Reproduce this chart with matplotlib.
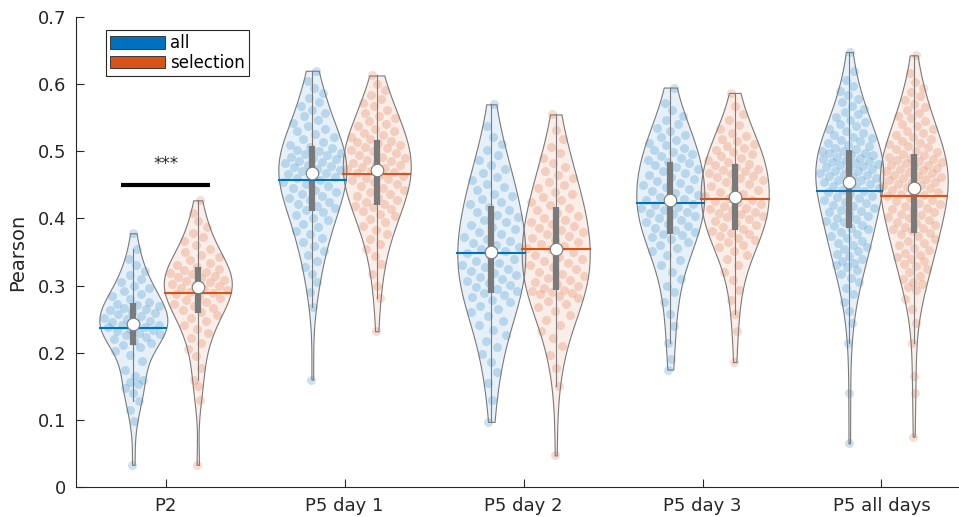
import numpy as np
import matplotlib.pyplot as plt
from matplotlib.patches import Patch
from matplotlib.colors import to_rgba


groups = ['P2', 'P5 day 1', 'P5 day 2', 'P5 day 3', 'P5 all days']
labels = ['all', 'selection']
colors = ['#0072BD', '#D95319']

# Pearson values per group
p2_all = [0.033, 0.098, 0.115, 0.128, 0.140, 0.148, 0.153, 0.157, 0.160, 0.165,
          0.175, 0.188, 0.196, 0.203, 0.209, 0.212, 0.214, 0.217, 0.220, 0.223,
          0.226, 0.228, 0.230, 0.232, 0.234, 0.236, 0.238, 0.239, 0.241, 0.242,
          0.244, 0.246, 0.248, 0.250, 0.252, 0.255, 0.257, 0.259, 0.261, 0.263,
          0.265, 0.267, 0.269, 0.271, 0.273, 0.276, 0.280, 0.284, 0.288, 0.292,
          0.296, 0.300, 0.305, 0.310, 0.316, 0.322, 0.330, 0.340, 0.355, 0.378]
p2_sel = [0.033, 0.130, 0.150, 0.160, 0.178, 0.195, 0.205, 0.214, 0.222, 0.229,
          0.235, 0.241, 0.247, 0.252, 0.256, 0.260, 0.263, 0.266, 0.269, 0.272,
          0.275, 0.278, 0.281, 0.284, 0.287, 0.289, 0.291, 0.293, 0.295, 0.297,
          0.299, 0.301, 0.303, 0.305, 0.307, 0.309, 0.311, 0.313, 0.315, 0.317,
          0.319, 0.321, 0.323, 0.325, 0.327, 0.330, 0.334, 0.338, 0.342, 0.346,
          0.350, 0.355, 0.360, 0.366, 0.372, 0.379, 0.387, 0.396, 0.408, 0.427]
d1_all = [0.160, 0.268, 0.290, 0.305, 0.318, 0.328, 0.337, 0.345, 0.352, 0.359,
          0.365, 0.371, 0.377, 0.382, 0.387, 0.392, 0.397, 0.401, 0.405, 0.409,
          0.412, 0.415, 0.418, 0.421, 0.424, 0.427, 0.430, 0.433, 0.436, 0.439,
          0.442, 0.445, 0.448, 0.451, 0.454, 0.457, 0.460, 0.462, 0.464, 0.466,
          0.468, 0.470, 0.472, 0.474, 0.476, 0.478, 0.480, 0.482, 0.484, 0.486,
          0.488, 0.490, 0.492, 0.494, 0.496, 0.498, 0.500, 0.502, 0.505, 0.507,
          0.510, 0.514, 0.518, 0.522, 0.526, 0.530, 0.534, 0.538, 0.542, 0.547,
          0.552, 0.557, 0.562, 0.568, 0.574, 0.580, 0.587, 0.595, 0.605, 0.620]
d1_sel = [0.232, 0.282, 0.300, 0.318, 0.332, 0.344, 0.354, 0.362, 0.370, 0.377,
          0.383, 0.389, 0.394, 0.399, 0.403, 0.407, 0.411, 0.414, 0.417, 0.419,
          0.421, 0.424, 0.427, 0.430, 0.433, 0.436, 0.439, 0.442, 0.445, 0.448,
          0.451, 0.454, 0.457, 0.459, 0.461, 0.463, 0.465, 0.467, 0.469, 0.471,
          0.473, 0.475, 0.477, 0.479, 0.481, 0.483, 0.485, 0.487, 0.490, 0.492,
          0.495, 0.497, 0.500, 0.502, 0.505, 0.507, 0.510, 0.512, 0.514, 0.516,
          0.519, 0.522, 0.525, 0.528, 0.531, 0.534, 0.537, 0.541, 0.545, 0.549,
          0.553, 0.557, 0.562, 0.567, 0.572, 0.578, 0.584, 0.591, 0.600, 0.613]
d2_all = [0.097, 0.130, 0.155, 0.172, 0.186, 0.198, 0.208, 0.217, 0.226, 0.234,
          0.241, 0.248, 0.254, 0.260, 0.265, 0.270, 0.275, 0.279, 0.283, 0.286,
          0.289, 0.292, 0.295, 0.298, 0.301, 0.304, 0.307, 0.310, 0.313, 0.316,
          0.319, 0.322, 0.325, 0.328, 0.331, 0.334, 0.337, 0.340, 0.344, 0.348,
          0.352, 0.355, 0.358, 0.361, 0.364, 0.367, 0.370, 0.373, 0.377, 0.380,
          0.384, 0.387, 0.391, 0.394, 0.398, 0.402, 0.405, 0.409, 0.413, 0.417,
          0.421, 0.425, 0.429, 0.433, 0.437, 0.442, 0.447, 0.452, 0.457, 0.462,
          0.468, 0.474, 0.480, 0.487, 0.494, 0.502, 0.511, 0.522, 0.537, 0.570]
d2_sel = [0.047, 0.150, 0.178, 0.196, 0.210, 0.222, 0.232, 0.241, 0.249, 0.256,
          0.262, 0.268, 0.273, 0.277, 0.281, 0.284, 0.287, 0.289, 0.291, 0.292,
          0.294, 0.297, 0.300, 0.303, 0.306, 0.309, 0.312, 0.315, 0.318, 0.321,
          0.324, 0.327, 0.330, 0.333, 0.336, 0.339, 0.342, 0.346, 0.350, 0.354,
          0.356, 0.359, 0.362, 0.365, 0.368, 0.371, 0.374, 0.377, 0.380, 0.383,
          0.386, 0.389, 0.392, 0.395, 0.398, 0.401, 0.404, 0.408, 0.412, 0.416,
          0.420, 0.424, 0.428, 0.432, 0.436, 0.440, 0.445, 0.450, 0.455, 0.460,
          0.465, 0.471, 0.477, 0.483, 0.490, 0.498, 0.507, 0.518, 0.532, 0.555]
d3_all = [0.175, 0.190, 0.215, 0.240, 0.258, 0.275, 0.290, 0.300, 0.310, 0.320,
          0.330, 0.338, 0.345, 0.351, 0.356, 0.361, 0.365, 0.369, 0.372, 0.375,
          0.377, 0.380, 0.383, 0.386, 0.389, 0.392, 0.395, 0.398, 0.401, 0.404,
          0.406, 0.408, 0.410, 0.412, 0.415, 0.417, 0.420, 0.422, 0.425, 0.427,
          0.429, 0.432, 0.435, 0.438, 0.441, 0.444, 0.447, 0.450, 0.453, 0.456,
          0.459, 0.462, 0.465, 0.468, 0.471, 0.474, 0.477, 0.480, 0.482, 0.484,
          0.487, 0.490, 0.493, 0.496, 0.499, 0.502, 0.505, 0.509, 0.513, 0.517,
          0.521, 0.525, 0.530, 0.535, 0.540, 0.546, 0.553, 0.561, 0.572, 0.595]
d3_sel = [0.186, 0.232, 0.258, 0.278, 0.294, 0.308, 0.320, 0.330, 0.339, 0.346,
          0.352, 0.357, 0.361, 0.365, 0.368, 0.371, 0.374, 0.377, 0.379, 0.382,
          0.384, 0.387, 0.390, 0.393, 0.396, 0.399, 0.402, 0.404, 0.406, 0.408,
          0.410, 0.412, 0.414, 0.416, 0.418, 0.421, 0.424, 0.426, 0.428, 0.431,
          0.433, 0.436, 0.439, 0.442, 0.445, 0.448, 0.451, 0.454, 0.457, 0.460,
          0.462, 0.464, 0.466, 0.468, 0.470, 0.472, 0.474, 0.476, 0.479, 0.481,
          0.484, 0.487, 0.490, 0.493, 0.496, 0.499, 0.502, 0.505, 0.508, 0.511,
          0.515, 0.519, 0.523, 0.528, 0.533, 0.539, 0.546, 0.555, 0.567, 0.587]
dall_all = [0.065, 0.140, 0.215, 0.245, 0.262, 0.276, 0.288, 0.297, 0.305, 0.312,
            0.318, 0.323, 0.328, 0.331, 0.333, 0.337, 0.340, 0.344, 0.347, 0.351,
            0.354, 0.358, 0.361, 0.364, 0.367, 0.371, 0.374, 0.377, 0.380, 0.384,
            0.386, 0.389, 0.391, 0.394, 0.396, 0.399, 0.401, 0.404, 0.406, 0.409,
            0.411, 0.413, 0.416, 0.418, 0.420, 0.423, 0.425, 0.427, 0.430, 0.432,
            0.434, 0.437, 0.439, 0.441, 0.443, 0.445, 0.447, 0.449, 0.451, 0.453,
            0.455, 0.457, 0.458, 0.460, 0.462, 0.463, 0.465, 0.466, 0.468, 0.470,
            0.471, 0.473, 0.474, 0.476, 0.478, 0.479, 0.481, 0.482, 0.484, 0.486,
            0.487, 0.489, 0.490, 0.492, 0.494, 0.495, 0.497, 0.498, 0.500, 0.501,
            0.503, 0.505, 0.508, 0.510, 0.512, 0.515, 0.517, 0.520, 0.522, 0.525,
            0.528, 0.531, 0.534, 0.537, 0.540, 0.543, 0.547, 0.551, 0.555, 0.559,
            0.563, 0.568, 0.573, 0.578, 0.584, 0.590, 0.597, 0.606, 0.620, 0.648]
dall_sel = [0.075, 0.140, 0.165, 0.215, 0.245, 0.265, 0.280, 0.293, 0.298, 0.302,
            0.306, 0.310, 0.315, 0.320, 0.325, 0.329, 0.332, 0.336, 0.339, 0.343,
            0.346, 0.349, 0.353, 0.356, 0.360, 0.363, 0.367, 0.370, 0.374, 0.377,
            0.379, 0.381, 0.384, 0.386, 0.388, 0.391, 0.393, 0.395, 0.398, 0.400,
            0.402, 0.405, 0.407, 0.409, 0.412, 0.414, 0.416, 0.419, 0.421, 0.423,
            0.426, 0.428, 0.430, 0.433, 0.435, 0.437, 0.439, 0.441, 0.443, 0.445,
            0.447, 0.449, 0.450, 0.452, 0.454, 0.455, 0.457, 0.459, 0.460, 0.462,
            0.464, 0.465, 0.467, 0.469, 0.470, 0.472, 0.474, 0.475, 0.477, 0.479,
            0.480, 0.482, 0.484, 0.485, 0.487, 0.489, 0.490, 0.492, 0.494, 0.496,
            0.499, 0.501, 0.503, 0.506, 0.508, 0.511, 0.513, 0.516, 0.519, 0.522,
            0.525, 0.528, 0.531, 0.534, 0.537, 0.541, 0.545, 0.549, 0.553, 0.557,
            0.561, 0.566, 0.571, 0.576, 0.582, 0.588, 0.595, 0.604, 0.617, 0.643]

data = [[p2_all, p2_sel], [d1_all, d1_sel], [d2_all, d2_sel],
        [d3_all, d3_sel], [dall_all, dall_sel]]

sig_group = 0
sig_text = '***'
sig_y = 0.45


def kde(v, y):
    v = np.asarray(v)
    n = len(v)
    s = np.median(np.abs(v - np.median(v))) / 0.6745
    bw = 1.3 * s * (4 / (3 * n)) ** 0.2
    z = (y[:, None] - v[None, :]) / bw
    return np.exp(-0.5 * z**2).sum(1) / (n * bw * np.sqrt(2 * np.pi))


fig = plt.figure(figsize=(9.59, 5.17), dpi=100)
ax = fig.add_axes([0.0793, 0.058, 0.9207, 0.909])

gray = '#7a7a7a'
half = 0.19
offset = 0.18

for gi, pair in enumerate(data):
    for si, vals in enumerate(pair):
        v = np.sort(np.asarray(vals))
        pos = gi + 1 + (-offset if si == 0 else offset)
        col = colors[si]

        y = np.linspace(v.min(), v.max(), 200)
        d = kde(v, y)
        dmax = d.max()
        w = d / dmax * half

        # scattered points inside the violin
        dv = kde(v, v) / dmax * half
        jit = ((np.arange(len(v)) * 0.618034 + 0.3 * si) % 1) * 2 - 1
        ax.scatter(pos + jit * dv * 0.9, v, s=42, color=col, alpha=0.2,
                   linewidths=0, zorder=2)

        ax.fill_betweenx(y, pos - w, pos + w, facecolor=to_rgba(col, 0.1),
                         edgecolor=gray, linewidth=0.8, zorder=3)

        q1, med, q3 = np.percentile(v, [25, 50, 75])
        iqr = q3 - q1
        lo = v[v >= q1 - 1.5 * iqr].min()
        hi = v[v <= q3 + 1.5 * iqr].max()
        ax.plot([pos, pos], [lo, hi], color=gray, lw=0.8, zorder=4)
        ax.plot([pos, pos], [q1, q3], color=gray, lw=4.5,
                solid_capstyle='butt', zorder=5)

        m = v.mean()
        wm = kde(v, np.array([m]))[0] / dmax * half
        ax.plot([pos - wm, pos + wm], [m, m], color=col, lw=1.5, zorder=6)
        ax.plot(pos, med, 'o', ms=9, mfc='white', mec=gray, mew=0.8, zorder=7)

# significance marker
sx = sig_group + 1
ax.plot([sx - 0.25, sx + 0.25], [sig_y, sig_y], color='black', lw=3,
        solid_capstyle='butt')
ax.text(sx, sig_y + 0.024, sig_text, ha='center', va='baseline', fontsize=12,
        color='#262626')

ax.set_xlim(0.5, 5.433)
ax.set_ylim(0, 0.7)
ax.set_xticks(range(1, len(groups) + 1))
ax.set_xticklabels(groups)
ax.set_yticks(np.arange(0, 0.71, 0.1))
ax.set_yticklabels(['0', '0.1', '0.2', '0.3', '0.4', '0.5', '0.6', '0.7'])
ax.tick_params(direction='in', length=6, width=0.8, colors='#262626',
               labelsize=13, pad=7)
ax.set_ylabel('Pearson', fontsize=14, color='#262626', labelpad=8)
for side in ['top', 'right']:
    ax.spines[side].set_visible(False)
for side in ['left', 'bottom']:
    ax.spines[side].set_color('#262626')
    ax.spines[side].set_linewidth(0.8)

handles = [Patch(facecolor=c, edgecolor='#262626', linewidth=0.6) for c in colors]
leg = ax.legend(handles, labels, loc='upper left', bbox_to_anchor=(0.034, 0.972),
                borderaxespad=0, fontsize=12, handlelength=3.3, handleheight=0.75,
                labelspacing=0.1, handletextpad=0.3, borderpad=0.25,
                fancybox=False, framealpha=1)
leg.get_frame().set_edgecolor('#262626')
leg.get_frame().set_linewidth(0.8)

fig.savefig('out.png', dpi=100)
